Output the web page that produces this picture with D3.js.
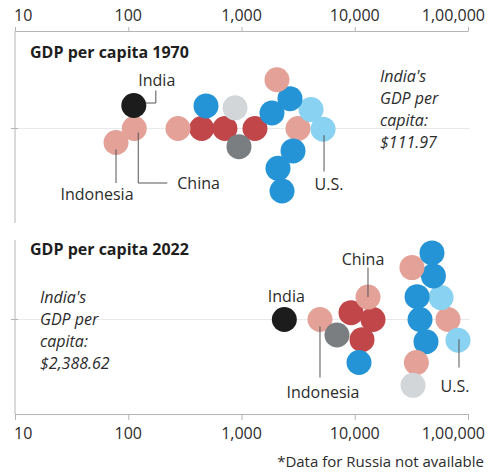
<!DOCTYPE html>
<html>
<head>
<meta charset="utf-8">
<script src="https://cdn.jsdelivr.net/npm/d3@7"></script>
<style>
  body { margin: 0; background: #fff; }
  svg { display: block; font-family: 'Open Sans', sans-serif; }
</style>
</head>
<body>
<div id="chart"></div>
<script>
// countries in the order they are placed in the swarm
const countries = ['Argentina', 'Australia', 'Brazil', 'Canada', 'China', 'EU', 'France',
  'Germany', 'India', 'Indonesia', 'Italy', 'Japan', 'Korea', 'Mexico', 'Saudi Arabia',
  'South Africa', 'Turkey', 'U.K.', 'U.S.'];
const regions = ['latam', 'asia', 'latam', 'namerica', 'asia', 'europe', 'europe',
  'europe', 'india', 'asia', 'europe', 'asia', 'asia', 'latam', 'mideast',
  'africa', 'europe', 'europe', 'namerica'];
const gdp1970 = [1315, 3155, 445, 4113, 113, 1858, 2850,
  2680, 111.97, 78, 2100, 2056, 275, 714, 877,
  950, 486, 2280, 5248];
const gdp2022 = [14490, 66600, 9270, 57800, 13090, 37700, 42560,
  49500, 2388.62, 4932, 35500, 35000, 32000, 11590, 32700,
  6966, 10900, 48080, 81600];

const tickValues = [10, 100, 1000, 10000, 100000];
const tickLabels = ['10', '100', '1,000', '10,000', '1,00,000'];
const panelTitles = ['GDP per capita 1970', 'GDP per capita 2022'];
const indiaNotes = [
  ["India's", 'GDP per', 'capita:', '$111.97'],
  ["India's", 'GDP per', 'capita:', '$2,388.62'],
];
const footnote = '*Data for Russia not available';

const REGION_COLORS = {
  india: '#1c1c1c',
  asia: '#e3a198',
  latam: '#c0464a',
  europe: '#2494d6',
  namerica: '#8ad2f1',
  mideast: '#d3d6d9',
  africa: '#7a7e81',
};

const width = 489;
const height = 472;
const radius = 12.5;
const spacing = 23; // centre-to-centre distance in the swarm
const axisColor = '#b4b4b4';
const textColor = '#2b2b2b';

const x = d3.scaleLog().domain([10, 100000]).range([15, 468]);

// each dot takes the free offset nearest the centre line, upward on a tie
const dodge = xs => {
  const placed = [];
  return xs.map(px => {
    const near = placed.filter(p => Math.abs(p.x - px) < spacing);
    const candidates = [0];
    near.forEach(p => {
      const h = Math.sqrt(spacing * spacing - (p.x - px) ** 2);
      candidates.push(p.dy - h, p.dy + h);
    });
    const free = candidates.filter(c =>
      near.every(p => (p.x - px) ** 2 + (p.dy - c) ** 2 >= spacing * spacing - 1e-6));
    free.sort((a, b) => Math.abs(a) - Math.abs(b) || a - b);
    placed.push({ x: px, dy: free[0] });
    return free[0];
  });
};

const svg = d3.select('#chart').append('svg').attr('width', width).attr('height', height);

const topAxis = d3.axisTop(x).tickValues(tickValues).tickSizeInner(4).tickSizeOuter(0).tickFormat('');
const bottomAxis = d3.axisBottom(x).tickValues(tickValues).tickSizeInner(6).tickSizeOuter(0).tickFormat('');

const styleAxis = g => {
  g.select('.domain').attr('stroke', axisColor);
  g.selectAll('.tick line').attr('stroke', axisColor);
};
svg.append('g').attr('transform', 'translate(0,31)').call(topAxis).call(styleAxis);
svg.append('g').attr('transform', 'translate(0,414)').call(bottomAxis).call(styleAxis);

// tick labels: first one starts at its tick, last one is pulled in to fit
const placeTickLabels = y => {
  svg.append('g')
    .selectAll('text')
    .data(tickValues)
    .join('text')
    .attr('x', (d, i) => (i === 0 ? x(d) - 1 : i === tickValues.length - 1 ? width - 4 : x(d)))
    .attr('y', y)
    .attr('dy', '0.35em')
    .attr('text-anchor', (d, i) => (i === 0 ? 'start' : i === tickValues.length - 1 ? 'end' : 'middle'))
    .attr('font-size', 16)
    .attr('fill', textColor)
    .text((d, i) => tickLabels[i]);
};
placeTickLabels(15);
placeTickLabels(433);

svg.append('text')
  .attr('x', width - 5)
  .attr('y', 462)
  .attr('dy', '0.35em')
  .attr('text-anchor', 'end')
  .attr('font-size', 15)
  .attr('fill', textColor)
  .text(footnote);

const panels = [
  { values: gdp1970, cy: 128.5, top: 31, bottom: 223, titleY: 52, noteX: 380, noteY: 76 },
  { values: gdp2022, cy: 319.5, top: 240, bottom: 414, titleY: 249, noteX: 40, noteY: 297 },
];

// label placement per panel, relative to the dot and the panel's centre line
const annotations = [
  [
    { name: 'India', label: d => [d.x + 23, d.y - 25], leader: d => [[d.x + 12, d.y - 2.5], [d.x + 22, d.y - 2.5], [d.x + 22, d.y - 15]] },
    { name: 'China', anchor: 'start', label: (d, cy) => [d.x + 43, cy + 55], leader: (d, cy) => [[d.x + 4, d.y + 4], [d.x + 4, cy + 54.5], [d.x + 33, cy + 54.5]] },
    { name: 'Indonesia', label: (d, cy) => [d.x - 19, cy + 66], leader: (d, cy) => [[d.x, d.y + 7], [d.x, cy + 54.5]] },
    { name: 'U.S.', label: (d, cy) => [d.x + 6, cy + 56], leader: (d, cy) => [[d.x + 1, d.y + 6], [d.x + 1, cy + 43]] },
  ],
  [
    { name: 'India', label: d => [d.x + 2, d.y - 23] },
    { name: 'China', label: (d, cy) => [d.x - 5, cy - 60], leader: (d, cy) => [[d.x, cy - 52], [d.x, d.y]] },
    { name: 'Indonesia', label: (d, cy) => [d.x + 3, cy + 73], leader: (d, cy) => [[d.x, d.y + 7], [d.x, cy + 58]] },
    { name: 'U.S.', label: (d, cy) => [d.x - 3, cy + 67], leader: (d, cy) => [[d.x + 1, d.y - 1], [d.x + 1, cy + 48]] },
  ],
];

panels.forEach((panel, p) => {
  const { values, cy, top, bottom, titleY, noteX, noteY } = panel;
  const g = svg.append('g');

  // left rule and centre line
  g.append('line')
    .attr('x1', x(10)).attr('x2', x(10))
    .attr('y1', top).attr('y2', bottom)
    .attr('stroke', axisColor);
  g.append('line')
    .attr('x1', x(10) - 4).attr('x2', 470)
    .attr('y1', cy).attr('y2', cy)
    .attr('stroke', '#e9e9e9');
  g.append('line')
    .attr('x1', x(10) - 4).attr('x2', x(10) + 3)
    .attr('y1', cy).attr('y2', cy)
    .attr('stroke', axisColor);

  g.append('text')
    .attr('x', 30)
    .attr('y', titleY)
    .attr('dy', '0.35em')
    .attr('font-size', 16)
    .attr('font-weight', 700)
    .attr('fill', '#1e1e1e')
    .text(panelTitles[p]);

  const note = g.append('text')
    .attr('x', noteX)
    .attr('y', noteY)
    .attr('font-size', 16)
    .attr('font-style', 'italic')
    .attr('fill', textColor);
  note.selectAll('tspan')
    .data(indiaNotes[p])
    .join('tspan')
    .attr('x', noteX)
    .attr('dy', (d, i) => (i === 0 ? '0.35em' : 22))
    .text(d => d);

  const offsets = dodge(values.map(v => x(v)));
  const nodes = countries.map((name, i) => ({
    name,
    region: regions[i],
    x: x(values[i]),
    y: cy + offsets[i],
  }));

  g.append('g')
    .selectAll('circle')
    .data(nodes)
    .join('circle')
    .attr('cx', d => d.x)
    .attr('cy', d => d.y)
    .attr('r', radius)
    .attr('fill', d => REGION_COLORS[d.region]);

  annotations[p].forEach(a => {
    const d = nodes.find(n => n.name === a.name);
    if (a.leader) {
      g.append('path')
        .attr('d', d3.line()(a.leader(d, cy)))
        .attr('fill', 'none')
        .attr('stroke', '#555')
        .attr('stroke-width', 1);
    }
    const [lx, ly] = a.label(d, cy);
    g.append('text')
      .attr('x', lx)
      .attr('y', ly)
      .attr('dy', '0.35em')
      .attr('text-anchor', a.anchor || 'middle')
      .attr('font-size', 16)
      .attr('fill', textColor)
      .text(a.name);
  });
});
</script>
</body>
</html>
